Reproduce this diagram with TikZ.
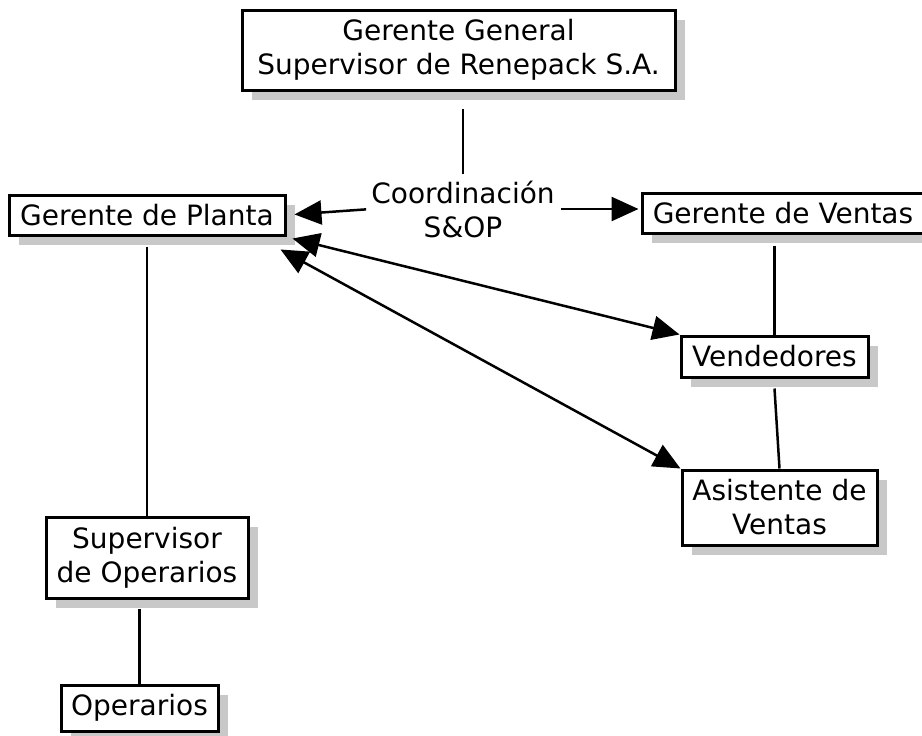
\documentclass[tikz,border=0pt]{standalone}
\usepackage{fontspec}
\setmainfont{DejaVu Sans}
\usetikzlibrary{arrows.meta}
\usetikzlibrary{shadows}
\definecolor{shadowgray}{RGB}{200,200,200}
\tikzset{orgbox/.style={draw=black, line width=3pt, fill=white, inner sep=0pt,
  align=center, font=\fontsize{28}{34}\selectfont,
  drop shadow={shadow xshift=10pt, shadow yshift=-10pt, fill=shadowgray, opacity=1}}}
\tikzset{link/.style={line width=2.5pt}}
\tikzset{flow/.style={line width=2.5pt, -{Triangle[length=27pt,width=24pt]}}}
\tikzset{flowboth/.style={line width=2.5pt, {Triangle[length=27pt,width=24pt]}-{Triangle[length=27pt,width=24pt]}}}

\begin{document}
\begin{tikzpicture}[x=1pt, y=-1pt]
      \useasboundingbox (0, 0) rectangle (922, 736);

      \node [orgbox, minimum width=433, minimum height=80] (gerente) at (458.5, 50) {Gerente General\\Supervisor de Renepack S.A.};
      \node [orgbox, minimum width=276, minimum height=40] (planta) at (147, 215) {Gerente de Planta};
      \node [orgbox, minimum width=282, minimum height=40] (ventas) at (783, 213) {Gerente de Ventas};
      \node [orgbox, minimum width=187, minimum height=41] (vendedores) at (774.5, 356.5) {Vendedores};
      \node [orgbox, minimum width=195, minimum height=75] (asistente) at (779.5, 507.5) {Asistente de\\Ventas};
      \node [orgbox, minimum width=202, minimum height=81] (supervisor) at (147, 557.5) {Supervisor\\de Operarios};
      \node [orgbox, minimum width=157, minimum height=46] (operarios) at (139.5, 708) {Operarios};
      \node [inner sep=0pt, align=center, font=\fontsize{28}{34}\selectfont] (coord) at (463, 209) {Coordinación\\S\&OP};

      \draw [link] ([yshift=6pt]coord.north) -- ([yshift=-17pt]coord.north |- gerente.south);
      \draw [flow, shorten <=5pt, shorten >=8pt] (coord.west) -- (planta.east);
      \draw [flow, shorten <=6pt, shorten >=2pt] (coord.east) -- (coord.east -| ventas.west);

      \draw [link] ([yshift=-10pt]planta.south) -- (supervisor.north);
      \draw [link] ([yshift=-9pt]operarios.north |- supervisor.south) -- (operarios.north);
      \draw [link] ([yshift=-11pt]vendedores.north |- ventas.south) -- (vendedores.north);
      \draw [link] ([yshift=-10pt]vendedores.south) -- (asistente.north);

      \coordinate (pl1) at ([shift={(6pt,-2pt)}]planta.south east);
      \coordinate (pl2) at ([shift={(-6pt,-13pt)}]planta.south east);
      \draw [flowboth] (pl1) -- (vendedores.north west);
      \draw [flowboth] (pl2) -- (asistente.north west);
    \end{tikzpicture}
\end{document}
